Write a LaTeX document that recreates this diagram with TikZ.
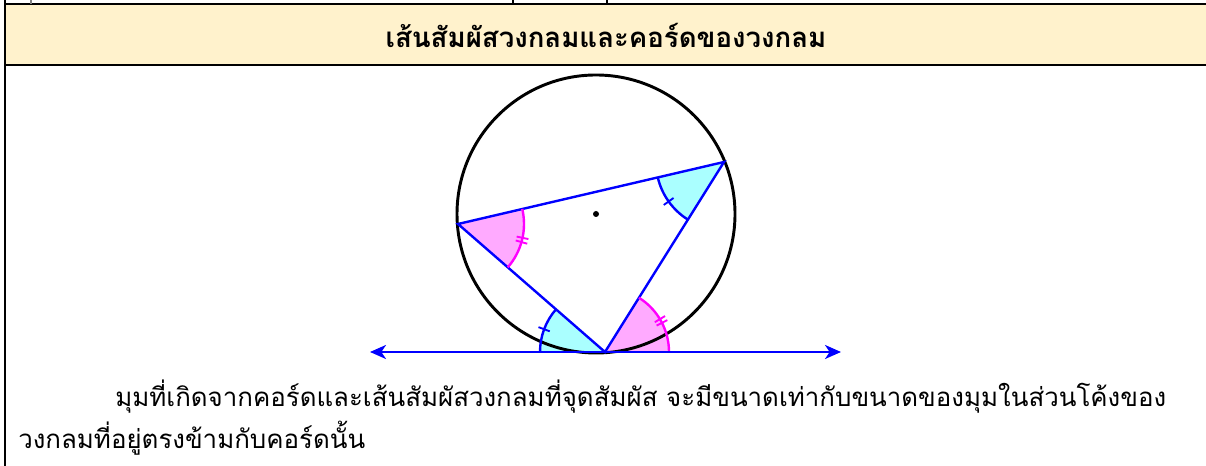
\documentclass[tikz,border=0pt]{standalone}
\usepackage{fontspec}
\usepackage{tikz}
\usetikzlibrary{arrows.meta}
\newfontfamily\thaifont[Script=Thai]{Loma}
\definecolor{bandyellow}{RGB}{255,242,204}
\definecolor{chordblue}{RGB}{0,0,255}
\definecolor{cyanfill}{RGB}{170,255,255}
\definecolor{pinkfill}{RGB}{255,170,255}
\definecolor{pinkline}{RGB}{255,0,255}

\begin{document}
\begin{tikzpicture}[x=0.75pt,y=0.75pt,
    chordline/.style={chordblue,line width=1.8pt},
    markline/.style={line width=1.4pt},
    bodytext/.style={font=\thaifont\fontsize{19.4}{24}\selectfont,anchor=base west,inner sep=0pt}]
  \useasboundingbox (0,0) rectangle (1206,466);
  % Title band
  \fill[bandyellow] (5,402) rectangle (1206,461);
  \draw[line width=1.5pt] (5,462) -- (1206,462);
  \draw[line width=1.6pt] (5,401) -- (1206,401);
  \draw[line width=1.3pt] (5,466) -- (5,0);
  \draw[gray,line width=1pt] (31,466) -- (31,462);
  \draw[line width=1pt] (513,466) -- (513,462) (607,466) -- (607,462);
  \node[font=\thaifont\bfseries\fontsize{20.7}{24}\selectfont,anchor=base] (title) at (606,418)
    {เส้นสัมผัสวงกลมและคอร์ดของวงกลม};

  % Centre, triangle vertices and tangent ends
  \coordinate (O) at (596,252);
  \coordinate (A) at (458,242);
  \coordinate (B) at (724,304);
  \coordinate (P) at (605,114);
  \coordinate (L) at (370,114);
  \coordinate (R) at (841,114);

  % Filled angles
  \fill[pinkfill] (A) -- ++(-41.05:66) arc[start angle=-41.05,end angle=13.12,radius=66] -- cycle;
  \fill[cyanfill] (B) -- ++(193.12:68) arc[start angle=193.12,end angle=237.94,radius=68] -- cycle;
  \fill[cyanfill] (P) -- ++(138.95:65) arc[start angle=138.95,end angle=180,radius=65] -- cycle;
  \fill[pinkfill] (P) -- ++(0:64) arc[start angle=0,end angle=57.94,radius=64] -- cycle;

  % Circle and centre
  \draw[line width=2.2pt] (O) circle (139);
  \fill (O) circle (3);

  % Chords
  \draw[chordline] (A) -- (B) -- (P) -- cycle;

  % Arcs with tick marks
  \draw[pinkline,line width=1.8pt] (A) ++(-41.05:66) arc[start angle=-41.05,end angle=13.12,radius=66];
  \draw[pinkline,markline] (A) ++(-15.9:60) -- ++(-15.9:12) (A) ++(-12.1:60) -- ++(-12.1:12);
  \draw[chordline] (B) ++(193.12:68) arc[start angle=193.12,end angle=237.94,radius=68];
  \draw[chordblue,markline] (B) ++(215.5:62) -- ++(215.5:12);
  \draw[chordline] (P) ++(138.95:65) arc[start angle=138.95,end angle=180,radius=65];
  \draw[chordblue,markline] (P) ++(159.5:59) -- ++(159.5:12);
  \draw[pinkline,line width=1.8pt] (P) ++(0:64) arc[start angle=0,end angle=57.94,radius=64];
  \draw[pinkline,markline] (P) ++(27.1:58) -- ++(27.1:12) (P) ++(30.9:58) -- ++(30.9:12);

  % Tangent line
  \draw[chordline,{Stealth[length=12pt,width=10.5pt,inset=3.5pt]}-{Stealth[length=12pt,width=10.5pt,inset=3.5pt]}] (L) -- (R);

  % Text below
  \node[bodytext] (line1) at (115,59)
    {มุมที่เกิดจากคอร์ดและเส้นสัมผัสวงกลมที่จุดสัมผัส จะมีขนาดเท่ากับขนาดของมุมในส่วนโค้งของ};
  \node[bodytext] (line2) at (18,17) {วงกลมที่อยู่ตรงข้ามกับคอร์ดนั้น};
\end{tikzpicture}
\end{document}
